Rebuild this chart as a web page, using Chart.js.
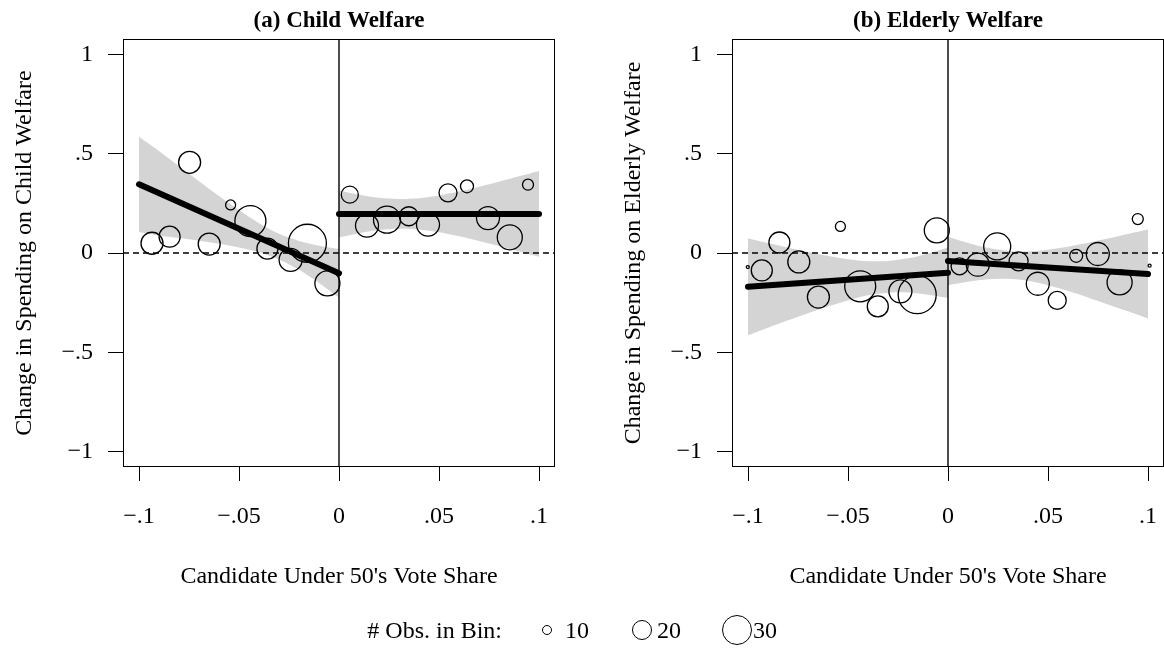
<!DOCTYPE html>
<html>
<head>
<meta charset="utf-8">
<script src="https://cdn.jsdelivr.net/npm/chart.js@4.4.1/dist/chart.umd.min.js"></script>
<style>
  html, body { margin: 0; padding: 0; background: #fff; overflow: hidden; }
  #wrap { position: relative; width: 1164px; height: 648px; }
  .panel { position: absolute; top: 0; }
  #legend { position: absolute; left: 0; top: 0; width: 1164px; height: 648px;
            font-family: "Liberation Serif", "Times New Roman", serif; font-size: 24px; color: #000; }
  .lg-text { position: absolute; top: 616px; line-height: 28px; white-space: nowrap; }
  .lg-dot { position: absolute; border: 1.3px solid #000; border-radius: 50%; box-sizing: border-box; }
</style>
</head>
<body>
<div id="wrap">
  <canvas id="child" class="panel" width="555" height="600" style="left:0px"></canvas>
  <canvas id="elder" class="panel" width="555" height="600" style="left:609px"></canvas>
  <div id="legend"></div>
</div>
<script>
// axis ticks
const xTickValues = [-0.1, -0.05, 0, 0.05, 0.1];
const xTickLabels = ['\u2212.1', '\u2212.05', '0', '.05', '.1'];
const yTickValues = [-1, -0.5, 0, 0.5, 1];
const yTickLabels = ['\u22121', '\u2212.5', '0', '.5', '1'];

// binned means, (a) child welfare
const childBinX = [-0.0935, -0.0847, -0.0747, -0.0649, -0.0542, -0.0443, -0.0358, -0.0242, -0.0158, -0.0058,
                   0.0054, 0.0140, 0.0240, 0.0349, 0.0445, 0.0545, 0.0640, 0.0745, 0.0854, 0.0945];
const childBinY = [0.049, 0.082, 0.457, 0.045, 0.242, 0.161, 0.022, -0.035, 0.049, -0.153,
                   0.294, 0.138, 0.168, 0.185, 0.143, 0.303, 0.336, 0.176, 0.079, 0.344];
const childBinN = [22, 21, 22, 22, 10, 31, 21, 23, 38, 25,
                   17, 23, 27, 19, 23, 18, 13, 23, 25, 11];

// binned means, (b) elderly welfare
const elderBinX = [-0.1001, -0.0931, -0.0843, -0.0746, -0.0648, -0.0538, -0.0439, -0.0351, -0.0238, -0.0154, -0.0056,
                   0.0058, 0.0149, 0.0246, 0.0353, 0.0449, 0.0546, 0.0641, 0.0749, 0.0858, 0.0949, 0.1008];
const elderBinY = [-0.071, -0.088, 0.053, -0.045, -0.222, 0.134, -0.168, -0.269, -0.193, -0.210, 0.114,
                   -0.067, -0.059, 0.033, -0.042, -0.155, -0.239, -0.014, -0.005, -0.148, 0.171, -0.064];
const elderBinN = [3, 21, 21, 22, 22, 10, 31, 21, 23, 38, 25,
                   17, 23, 27, 19, 23, 18, 13, 23, 25, 11, 3];

// linear fits on each side of the cutoff
const fitLeftX = [-0.1, 0];
const fitRightX = [0, 0.1];
const childFitLeft = [0.346, -0.102];
const childFitRight = [0.197, 0.197];
const elderFitLeft = [-0.170, -0.099];
const elderFitRight = [-0.040, -0.106];

// 95% confidence bands
const bandLeftX = [-0.1, -0.09, -0.08, -0.07, -0.06, -0.05, -0.04, -0.03, -0.02, -0.01, 0];
const bandRightX = [0, 0.01, 0.02, 0.03, 0.04, 0.05, 0.06, 0.07, 0.08, 0.09, 0.1];
const childBandLeftHi = [0.586, 0.514, 0.437, 0.362, 0.287, 0.216, 0.150, 0.097, 0.061, 0.037, 0.020];
const childBandLeftLo = [0.106, 0.088, 0.075, 0.062, 0.047, 0.028, 0.004, -0.033, -0.085, -0.151, -0.224];
const childBandRightHi = [0.315, 0.294, 0.278, 0.272, 0.276, 0.290, 0.310, 0.334, 0.359, 0.386, 0.413];
const childBandRightLo = [0.079, 0.100, 0.116, 0.122, 0.118, 0.104, 0.084, 0.060, 0.035, 0.008, -0.019];
const elderBandLeftHi = [0.074, 0.050, 0.027, 0.005, -0.015, -0.031, -0.041, -0.040, -0.027, -0.002, 0.028];
const elderBandLeftLo = [-0.414, -0.376, -0.339, -0.303, -0.269, -0.239, -0.213, -0.200, -0.199, -0.210, -0.226];
const elderBandRightHi = [0.082, 0.051, 0.026, 0.010, 0.008, 0.017, 0.032, 0.052, 0.073, 0.096, 0.118];
const elderBandRightLo = [-0.162, -0.145, -0.132, -0.130, -0.140, -0.163, -0.192, -0.224, -0.259, -0.294, -0.330];

const legendCounts = [10, 20, 30];

const X_MIN = -0.108, X_MAX = 0.108;
const Y_MIN = -1.078, Y_MAX = 1.078;
const SERIF = '"Liberation Serif", "Times New Roman", serif';
const BAND_GREY = '#d4d4d4';

function bubbleRadius(n) {
  return n / 2;
}

function pts(xs, ys) {
  return xs.map((x, i) => ({x: x, y: ys[i]}));
}

const framePlugin = {
  id: 'frame',
  afterDatasetsDraw(chart) {
    const {ctx, chartArea: a} = chart;
    ctx.save();
    ctx.strokeStyle = '#000';
    ctx.lineWidth = 1;
    ctx.strokeRect(Math.round(a.left) + 0.5, Math.round(a.top) + 0.5,
                   Math.round(a.right - a.left) - 1, Math.round(a.bottom - a.top) - 1);
    ctx.restore();
  }
};

function fitLine(xs, ys) {
  return {
    type: 'line', data: pts(xs, ys), order: 0,
    borderColor: '#000', borderWidth: 6, borderCapStyle: 'round',
    pointRadius: 0, fill: false
  };
}

function bandEdge(xs, ys, fillNext) {
  return {
    type: 'line', data: pts(xs, ys), order: 4,
    borderWidth: 0, borderColor: BAND_GREY, pointRadius: 0, tension: 0.3,
    backgroundColor: BAND_GREY, fill: fillNext ? '+1' : false
  };
}

function drawPanel(opts) {
  const datasets = [
    fitLine(fitLeftX, opts.fitLeft),
    fitLine(fitRightX, opts.fitRight),
    {
      type: 'bubble', data: pts(opts.binX, opts.binY), order: 1,
      radius: c => bubbleRadius(opts.binN[c.dataIndex]),
      hoverRadius: 0,
      borderColor: '#000', borderWidth: 1.3, backgroundColor: 'rgba(0,0,0,0)'
    },
    {
      type: 'line', data: [{x: 0, y: Y_MIN}, {x: 0, y: Y_MAX}], order: 2,
      borderColor: '#000', borderWidth: 1.4, pointRadius: 0, fill: false
    },
    {
      type: 'line', data: [{x: X_MIN, y: 0}, {x: X_MAX, y: 0}], order: 3,
      borderColor: '#000', borderWidth: 1.4, borderDash: [6, 4], pointRadius: 0, fill: false
    },
    bandEdge(bandLeftX, opts.bandLeftHi, true),
    bandEdge(bandLeftX, opts.bandLeftLo, false),
    bandEdge(bandRightX, opts.bandRightHi, true),
    bandEdge(bandRightX, opts.bandRightLo, false)
  ];

  const tickFont = {family: SERIF, size: 24};
  const ctx = document.getElementById(opts.canvasId).getContext('2d');
  return new Chart(ctx, {
    type: 'scatter',
    data: {datasets: datasets},
    options: {
      responsive: false,
      animation: false,
      devicePixelRatio: 1,
      events: [],
      layout: {autoPadding: false, padding: {top: 0, right: 0, bottom: 0, left: 0}},
      plugins: {
        legend: {display: false},
        tooltip: {enabled: false},
        title: {
          display: true, text: opts.title, fullSize: false, color: '#000',
          font: {family: SERIF, size: 23, weight: 'bold', lineHeight: 1.2},
          padding: {top: 7, bottom: 4.4}
        }
      },
      scales: {
        x: {
          type: 'linear', min: X_MIN, max: X_MAX,
          afterBuildTicks: s => { s.ticks = xTickValues.map(v => ({value: v})); },
          afterFit: s => { s.height = 133; s.paddingLeft = 0; s.paddingRight = 0; },
          border: {display: false},
          grid: {display: true, drawOnChartArea: false, drawTicks: true, tickLength: 14, color: '#000', lineWidth: 1},
          ticks: {
            callback: (v, i) => xTickLabels[i],
            font: tickFont, color: '#000', padding: 21, maxRotation: 0, autoSkip: false
          },
          title: {
            display: true, text: "Candidate Under 50's Vote Share", color: '#000',
            font: {family: SERIF, size: 24, lineHeight: 1.2}, padding: {top: 0, bottom: 9}
          }
        },
        y: {
          type: 'linear', min: Y_MIN, max: Y_MAX,
          afterBuildTicks: s => { s.ticks = yTickValues.map(v => ({value: v})); },
          afterFit: s => { s.width = 123; },
          border: {display: false},
          grid: {display: true, drawOnChartArea: false, drawTicks: true, tickLength: 15, color: '#000', lineWidth: 1},
          ticks: {
            callback: (v, i) => yTickLabels[i],
            font: tickFont, color: '#000', padding: 15, autoSkip: false
          },
          title: {
            display: true, text: opts.yTitle, color: '#000',
            font: {family: SERIF, size: 24, lineHeight: 1.2}, padding: {top: 10, bottom: 0}
          }
        }
      }
    },
    plugins: [framePlugin]
  });
}

function drawLegend() {
  const box = document.getElementById('legend');
  const centerY = 630;
  const label = document.createElement('div');
  label.className = 'lg-text';
  label.textContent = '# Obs. in Bin:';
  label.style.right = (1164 - 502) + 'px';
  box.appendChild(label);

  const dotCenters = [547, 642, 737];
  const textLefts = [565, 657, 753];
  legendCounts.forEach((n, i) => {
    const r = bubbleRadius(n);
    const dot = document.createElement('div');
    dot.className = 'lg-dot';
    dot.style.width = (2 * r) + 'px';
    dot.style.height = (2 * r) + 'px';
    dot.style.left = (dotCenters[i] - r) + 'px';
    dot.style.top = (centerY - r) + 'px';
    box.appendChild(dot);
    const t = document.createElement('div');
    t.className = 'lg-text';
    t.textContent = String(n);
    t.style.left = textLefts[i] + 'px';
    box.appendChild(t);
  });
}

drawPanel({
  canvasId: 'child', title: '(a) Child Welfare', yTitle: 'Change in Spending on Child Welfare',
  binX: childBinX, binY: childBinY, binN: childBinN,
  fitLeft: childFitLeft, fitRight: childFitRight,
  bandLeftHi: childBandLeftHi, bandLeftLo: childBandLeftLo,
  bandRightHi: childBandRightHi, bandRightLo: childBandRightLo
});
drawPanel({
  canvasId: 'elder', title: '(b) Elderly Welfare', yTitle: 'Change in Spending on Elderly Welfare',
  binX: elderBinX, binY: elderBinY, binN: elderBinN,
  fitLeft: elderFitLeft, fitRight: elderFitRight,
  bandLeftHi: elderBandLeftHi, bandLeftLo: elderBandLeftLo,
  bandRightHi: elderBandRightHi, bandRightLo: elderBandRightLo
});
drawLegend();
</script>
</body>
</html>
